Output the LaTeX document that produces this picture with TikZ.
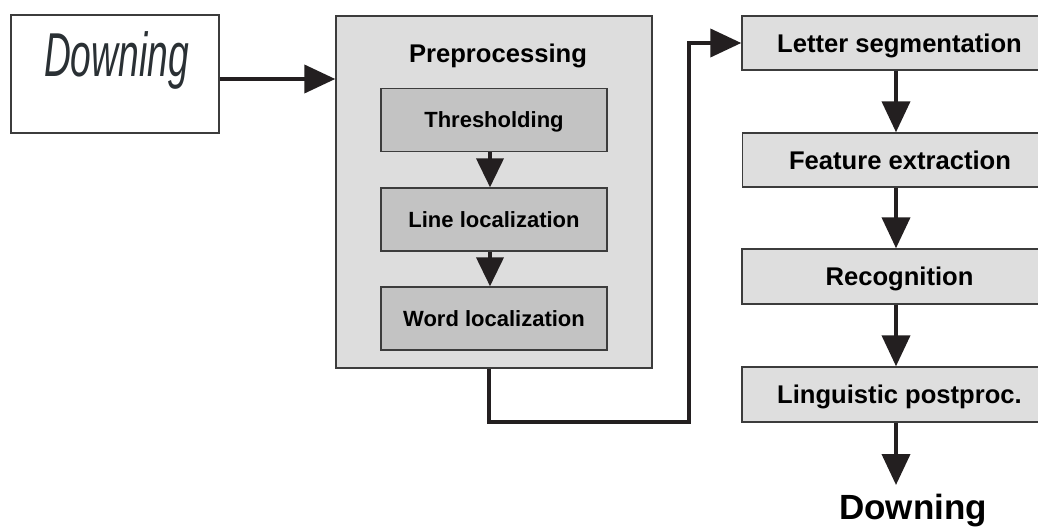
\documentclass[tikz,border=0pt]{standalone}
\usepackage{fontspec}
\setmainfont{Liberation Sans}
\newfontfamily\handfont{Liberation Sans}
\usetikzlibrary{arrows.meta}
\definecolor{inkdark}{HTML}{231F20}
\definecolor{framegray}{HTML}{3C3C3C}
\definecolor{outerfill}{HTML}{DDDDDD}
\definecolor{innerfill}{HTML}{C3C3C3}
\definecolor{stagefill}{HTML}{DEDEDE}
\definecolor{penink}{HTML}{2A3034}
\tikzset{
  x=1pt, y=-1pt,
  arr/.style={draw=inkdark, line width=4pt, line join=miter,
    -{Triangle[length=31pt, width=28pt]}},
  smallarr/.style={draw=inkdark, line width=4pt,
    -{Triangle[length=29pt, width=27pt]}},
  outerbox/.style={draw=framegray, line width=1.4pt, fill=outerfill,
    minimum width=316pt, minimum height=352pt, inner sep=0pt},
  bigtext/.style={font=\fontsize{25.6}{30}\selectfont\bfseries,
    text height=18.3pt, text depth=0pt},
  innerbox/.style={draw=framegray, line width=1.4pt, fill=innerfill,
    minimum width=226pt, minimum height=63pt, inner sep=0pt,
    font=\fontsize{22}{26}\selectfont\bfseries,
    text height=15.8pt, text depth=0pt},
  stagebox/.style={draw=framegray, line width=1.4pt, fill=stagefill,
    minimum width=315pt, minimum height=54pt, inner sep=0pt, bigtext},
  scanbox/.style={draw=framegray, line width=1.3pt, fill=white,
    minimum width=208pt, minimum height=118pt, inner sep=0pt},
}
\begin{document}
\begin{tikzpicture}
\useasboundingbox[fill=white] (0,0) rectangle (1038,527);

% scanned input word
\node[scanbox] (img) at (115,74) {};
\node[anchor=base west, xscale=0.6, text=penink, inner sep=0pt,
      font=\handfont\fontsize{62}{62}\selectfont\itshape] (hand) at (44,77) {Downing};

% preprocessing block
\node[outerbox] (pre) at (494,192) {};
\node[bigtext, inner sep=0pt] (pretitle) at (498,53.5) {Preprocessing};
\node[innerbox] (thr) at (494,120) {Thresholding};
\node[innerbox] (lin) at (494,219.5) {Line localization};
\node[innerbox] (wrd) at (494,318.5) {Word localization};

% recognition stages
\node[stagebox] (seg) at (899.5,43) {Letter segmentation};
\node[stagebox] (feat) at (900,160) {Feature extraction};
\node[stagebox, minimum height=55pt] (rec) at (899.5,276.5) {Recognition};
\node[stagebox, minimum height=55pt] (ling) at (899.5,394.5) {Linguistic postproc.};

% recognised word
\node[anchor=base, inner sep=0pt, font=\fontsize{35}{40}\selectfont\bfseries] (out) at (913,519) {Downing};
\coordinate (outtip) at (896,485);
\coordinate (bend) at (689,422);

% connectors
\draw[arr] ([yshift=-5pt]img.east) -- ([yshift=-5pt]img.east -| pre.west);
\draw[smallarr] ([xshift=-4pt]thr.south) -- ([xshift=-4pt]lin.north);
\draw[smallarr] ([xshift=-4pt]lin.south) -- ([xshift=-4pt]wrd.north);
\draw[arr] ([xshift=-5pt]pre.south) |- (bend) |- (seg.west);
\draw[arr] ([xshift=-3.5pt]seg.south) -- ([xshift=-3.5pt]seg.south |- feat.north);
\draw[arr] ([xshift=-4pt]feat.south) -- ([xshift=-4pt]feat.south |- rec.north);
\draw[arr] ([xshift=-3.5pt]rec.south) -- ([xshift=-3.5pt]rec.south |- ling.north);
\draw[arr] ([xshift=-3.5pt]ling.south) -- (outtip);
\end{tikzpicture}
\end{document}
